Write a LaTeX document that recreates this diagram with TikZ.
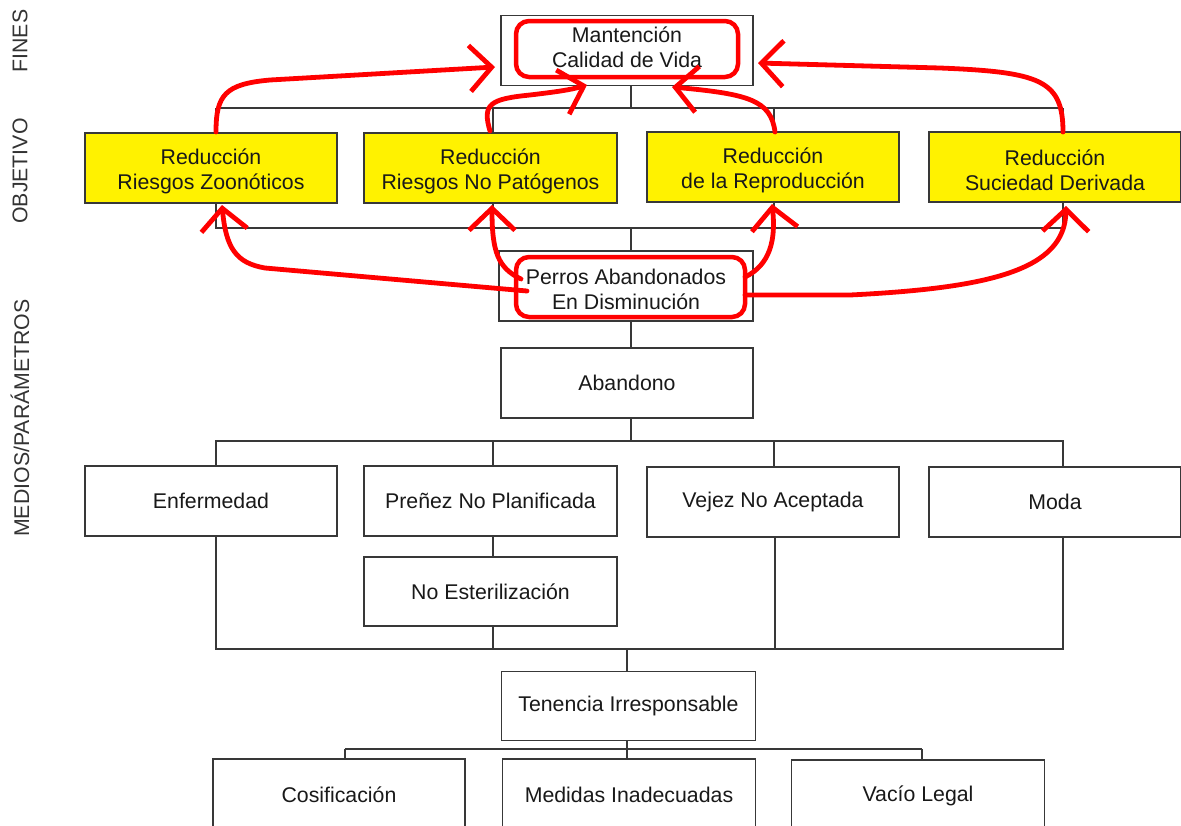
\documentclass[tikz,border=0pt]{standalone}
\usepackage{fontspec}
\setmainfont{Liberation Sans}
\usetikzlibrary{arrows.meta}
\newcommand{\upstrut}{\rule{0pt}{22pt}}
\newcommand{\dnstrut}{\rule[-6pt]{0pt}{6pt}}
\begin{document}
\begin{tikzpicture}[x=1pt,y=-1pt,
  txt/.style={font=\fontsize{21.3}{25}\selectfont, text=black!90},
  box/.style={txt, draw=black!78, line width=1.3pt, minimum width=252pt, minimum height=70pt, inner sep=0pt, align=center},
  goal/.style={box, fill=yellow},
  redbox/.style={draw=red, line width=4.5pt, rounded corners=13pt, inner sep=0pt},
  link/.style={draw=black!78, line width=1.3pt},
  redarrow/.style={draw=red, line width=4.8pt, line cap=round, line join=round,
     -{Straight Barb[length=22pt,width=46pt,line width=4.8pt]}},
  side/.style={txt, rotate=90, text=black!80}]
\clip (0,0) rectangle (1181,825);
\fill[white] (0,0) rectangle (1181,825);

% side labels
\node[side] (lf) at (20,41) {FINES};
\node[side] (lo) at (20,171) {OBJETIVO};
\node[side] (lm) at (20,418) {MEDIOS/PARÁMETROS};

% boxes
\node[box] (man) at (627,50.5) {Mantención\\Calidad de Vida\dnstrut};
\node[goal] (y1) at (211,168) {\upstrut Reducción\\Riesgos Zoonóticos};
\node[goal, minimum width=253pt] (y2) at (490.5,168) {\upstrut Reducción\\Riesgos No Patógenos};
\node[goal] (y3) at (773,167) {\upstrut Reducción\\de la Reproducción};
\node[goal] (y4) at (1055,167) {\upstrut Reducción\\Suciedad Derivada};
\node[box, minimum width=254pt] (per) at (626,286) {\upstrut Perros Abandonados\\En Disminución};
\node[box] (ab) at (627,383) {Abandono};
\node[box] (e1) at (211,501) {Enfermedad};
\node[box, minimum width=253pt] (e2) at (490.5,501) {Preñez No Planificada};
\node[box] (e3) at (773,502) {Vejez No Aceptada};
\node[box] (e4) at (1055,502) {Moda};
\node[box, minimum width=253pt, minimum height=69pt] (ne) at (490.5,591.5) {No Esterilización};
\node[box, minimum width=254pt, minimum height=69pt] (ten) at (628.5,706) {Tenencia Irresponsable};
\node[box, minimum height=72pt] (f1) at (339,795) {Cosificación};
\node[box, minimum width=253pt, minimum height=72pt] (f2) at (629,795) {Medidas Inadecuadas};
\node[box, minimum width=253pt, minimum height=72pt] (f3) at (918,796) {Vacío Legal};

% red highlight boxes
\node[redbox, minimum width=222pt, minimum height=56pt] (manR) at (627,49) {};
\node[redbox, minimum width=229pt, minimum height=60pt] (perR) at (630.5,287) {};

% connectors: top bracket
\coordinate (tC) at (631,108);
\coordinate (tL) at (216,108);
\coordinate (t2) at (493,108);
\coordinate (t3) at (774,108);
\coordinate (tR) at (1063,108);
\draw[link] (man.south -| tC) -- (tC);
\draw[link] (tL) -- (tR);
\draw[link] (tL) -- (tL |- y1.north);
\draw[link] (t2) -- (t2 |- y2.north);
\draw[link] (t3) -- (t3 |- y3.north);
\draw[link] (tR) -- (tR |- y4.north);

% lower bracket of objectives
\coordinate (bC) at (631,228);
\coordinate (bL) at (216,228);
\coordinate (b2) at (493,228);
\coordinate (b3) at (774,228);
\coordinate (bR) at (1063,228);
\draw[link] (y1.south -| bL) -- (bL) -- (bR) -- (y4.south -| bR);
\draw[link] (y2.south -| b2) -- (b2);
\draw[link] (y3.south -| b3) -- (b3);
\draw[link] (bC) -- (per.north -| bC);

% perros -> abandono
\draw[link] (per.south -| bC) -- (ab.north -| bC);

% abandono bracket
\coordinate (aC) at (631,441);
\coordinate (aL) at (216,441);
\coordinate (a2) at (493,441);
\coordinate (a3) at (774,441);
\coordinate (aR) at (1063,441);
\draw[link] (ab.south -| aC) -- (aC);
\draw[link] (e1.north -| aL) -- (aL) -- (aR) -- (e4.north -| aR);
\draw[link] (a2) -- (e2.north -| a2);
\draw[link] (a3) -- (e3.north -| a3);
\draw[link] (e2.south -| a2) -- (ne.north -| a2);

% bottom bracket
\coordinate (cC) at (627,649);
\coordinate (cL) at (216,649);
\coordinate (c2) at (493,649);
\coordinate (c3) at (775,649);
\coordinate (cR) at (1063,649);
\draw[link] (e1.south -| cL) -- (cL) -- (cR) -- (e4.south -| cR);
\draw[link] (ne.south -| c2) -- (c2);
\draw[link] (e3.south -| c3) -- (c3);
\draw[link] (cC) -- (ten.north -| cC);

% tenencia bracket
\coordinate (dC) at (627,749);
\coordinate (dL) at (345,749);
\coordinate (dR) at (922,749);
\draw[link] (ten.south -| dC) -- (dC);
\draw[link] (dL) -- (dR);
\draw[link] (dL) -- (f1.north -| dL);
\draw[link] (dC) -- (f2.north -| dC);
\draw[link] (dR) -- (f3.north -| dR);

% red arrows up to Mantencion
\coordinate (s1) at (216,132);
\coordinate (k1) at (270,80);
\coordinate (e1t) at (495,67);
\draw[redarrow] (s1) .. controls (216,95) and (225,84) .. (k1) -- (e1t);

\coordinate (s2) at (490,131);
\coordinate (e2t) at (587,85);
\draw[redarrow] (s2) .. controls (482,104) and (490,99) .. (530,95) .. controls (555,92) and (570,90) .. (e2t);

\coordinate (s3) at (775,132);
\coordinate (e3t) at (672,87);
\draw[redarrow] (s3) .. controls (771,100) and (748,94) .. (e3t);

\coordinate (s4) at (1063,132);
\coordinate (k4) at (940,68);
\coordinate (e4t) at (758,63);
\draw[redarrow] (s4) .. controls (1063,80) and (1040,72) .. (k4) -- (e4t);

% red arrows from Perros
\coordinate (p5) at (527,291);
\coordinate (k5) at (265,268);
\coordinate (g5) at (222,205);
\draw[redarrow] (p5) -- (k5) .. controls (236,263) and (226,248) .. (g5);

\coordinate (p6) at (521,279);
\coordinate (g6) at (492,205);
\draw[redarrow] (p6) .. controls (498,268) and (492,252) .. (g6);

\coordinate (p7) at (745,277);
\coordinate (g7) at (772,204);
\draw[redarrow] (p7) .. controls (770,265) and (776,240) .. (g7);

\coordinate (p8) at (745,295);
\coordinate (k8) at (850,295);
\coordinate (g8) at (1066,206);
\draw[redarrow] (p8) -- (k8) .. controls (990,288) and (1065,270) .. (g8);
\end{tikzpicture}
\end{document}
